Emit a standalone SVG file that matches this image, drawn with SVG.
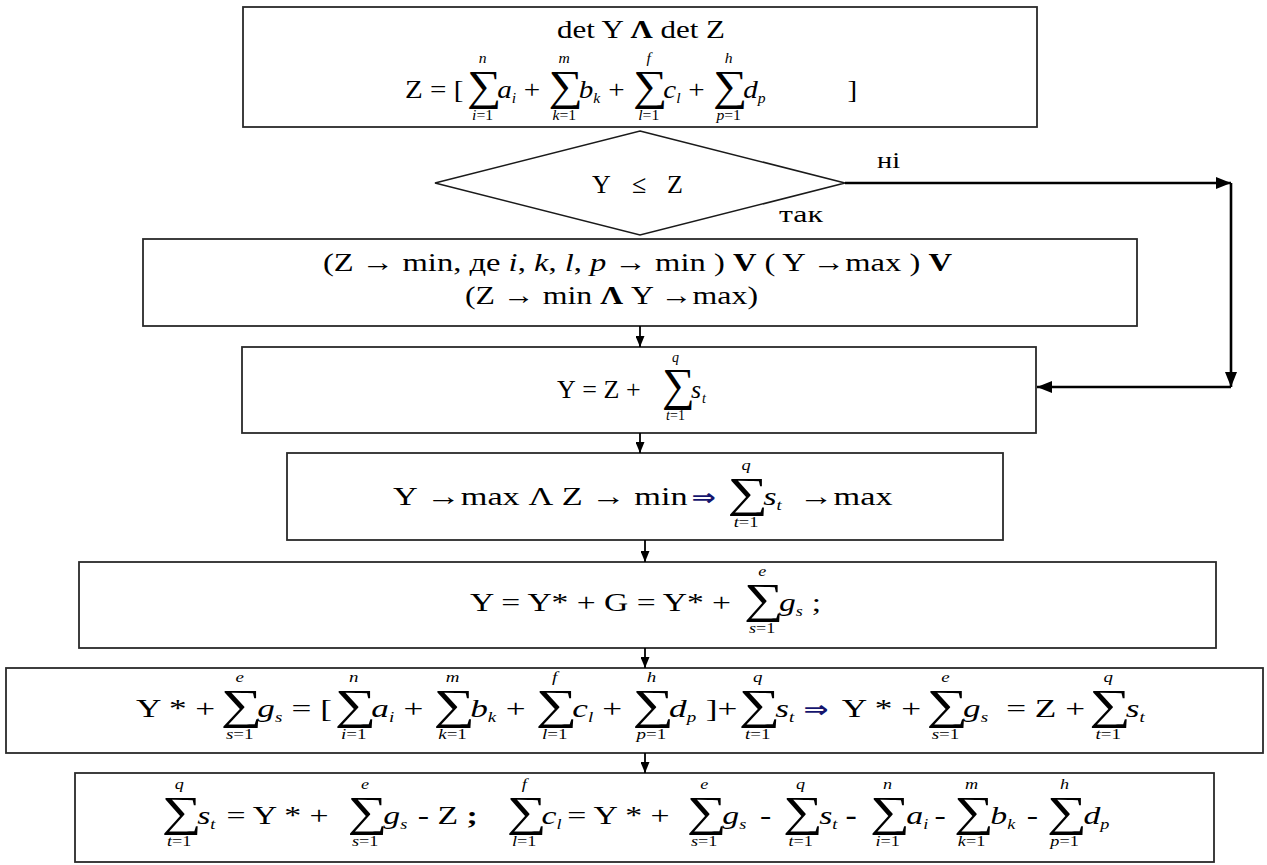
<svg xmlns="http://www.w3.org/2000/svg" width="1267" height="865" viewBox="0 0 1267 865">
<defs>
<style>
text { font-family: "Liberation Serif", "DejaVu Serif", serif; fill: #000; }
.m { font-size: 26px; }
.it { font-style: italic; }
.sb { font-size: 14px; font-style: italic; }
.S { font-size: 43px; font-style: normal; }
.S2 { font-size: 46px; font-style: normal; }
.lim { font-size: 14px; text-anchor: middle; }
.li { font-style: italic; }
.bd { font-weight: bold; }
.dr { font-family: "DejaVu Sans", sans-serif; font-weight: bold; fill: #15156e; font-size: 22px; }
.lbl { font-size: 24px; }
.box { fill: #fff; stroke: #2a2a2a; stroke-width: 1.8; }
.cn { fill: none; stroke: #000; stroke-width: 1.8; }
.fb { fill: none; stroke: #000; stroke-width: 2.6; }
</style>
<marker id="ah" viewBox="0 0 11 9" refX="11" refY="4.5" markerWidth="11" markerHeight="9" markerUnits="userSpaceOnUse" orient="auto">
<path d="M0,0 L11,4.5 L0,9 z" fill="#000"/>
</marker>
<marker id="ahb" viewBox="0 0 15 12" refX="15" refY="6" markerWidth="15" markerHeight="12" markerUnits="userSpaceOnUse" orient="auto">
<path d="M0,0 L15,6 L0,12 z" fill="#000"/>
</marker>
</defs>
<rect width="1267" height="865" fill="#fff"/>

<g id="n1">
<rect class="box" x="243" y="7" width="794" height="120"/>
<text class="m" x="557" y="38" font-size="25" textLength="168" lengthAdjust="spacingAndGlyphs">det Y <tspan class="bd">Λ</tspan> det Z</text>
<g transform="matrix(1.12 0 0 1 405 98)">
<text class="m"><tspan x="0" y="0">Z = [</tspan><tspan class="S" x="55.3" y="2">∑</tspan><tspan class="it" x="82.3" y="0">a</tspan><tspan class="sb" x="95.3" y="5">i</tspan><tspan x="106" y="0">+</tspan><tspan class="S" x="128.2" y="2">∑</tspan><tspan class="it" x="155.2" y="0">b</tspan><tspan class="sb" x="168.2" y="5">k</tspan><tspan x="181.4" y="0">+</tspan><tspan class="S" x="203.6" y="2">∑</tspan><tspan class="it" x="230.6" y="0">c</tspan><tspan class="sb" x="242.1" y="5">l</tspan><tspan x="252.8" y="0">+</tspan><tspan class="S" x="275" y="2">∑</tspan><tspan class="it" x="302" y="0">d</tspan><tspan class="sb" x="315" y="5">p</tspan><tspan x="395" y="0">]</tspan></text>
<text class="lim li" x="69.3" y="-35">n</text><text class="lim" x="69.3" y="22"><tspan class="li">i</tspan>=1</text>
<text class="lim li" x="142.2" y="-35">m</text><text class="lim" x="142.2" y="22"><tspan class="li">k</tspan>=1</text>
<text class="lim li" x="217.6" y="-35">f</text><text class="lim" x="217.6" y="22"><tspan class="li">l</tspan>=1</text>
<text class="lim li" x="289" y="-35">h</text><text class="lim" x="289" y="22"><tspan class="li">p</tspan>=1</text>
</g>
</g>

<g id="n2">
<polygon points="640,131 845,183 640,235 435,183" fill="#fff" stroke="#1a1a1a" stroke-width="1.6"/>
<text class="m" x="592 632 667" y="193" font-size="28">Y≤Z</text>
</g>

<g id="n3">
<rect class="box" x="143" y="239" width="994" height="87"/>
<text class="m" x="323" y="271" font-size="27" textLength="629" lengthAdjust="spacingAndGlyphs">(Z → min, де <tspan class="it">i</tspan>, <tspan class="it">k</tspan>, <tspan class="it">l</tspan>, <tspan class="it">p</tspan> → min ) <tspan class="bd">V</tspan> ( Y →max ) <tspan class="bd">V</tspan></text>
<text class="m" x="465" y="304" font-size="27" textLength="293" lengthAdjust="spacingAndGlyphs">(Z → min <tspan class="bd">Λ</tspan> Y →max)</text>
</g>

<g id="n4">
<rect class="box" x="242" y="347" width="794" height="86"/>
<text class="m" font-size="28"><tspan x="557 582.3 603.5 625.9" y="398">Y=Z+</tspan><tspan class="S2" x="662" y="400">∑</tspan><tspan class="it" x="691" y="398">s</tspan><tspan class="sb" x="702.1" y="403" font-size="15">t</tspan></text>
<text class="lim li" x="675.5" y="362">q</text><text class="lim" x="675.5" y="420"><tspan class="li">t</tspan>=1</text>
</g>

<g id="n5">
<rect class="box" x="287" y="453" width="716" height="87"/>
<g transform="matrix(1.32 0 0 1 393 505)">
<text class="m"><tspan x="0" y="0">Y</tspan><tspan x="25.3" y="0">→max</tspan><tspan x="102.6" y="0">Λ</tspan><tspan x="127.9" y="0">Z</tspan><tspan x="150.3" y="0">→</tspan><tspan x="182.8" y="0">min</tspan><tspan class="dr" x="226.2" y="0">⇒</tspan><tspan class="S" x="253.5" y="2">∑</tspan><tspan class="it" x="280.5" y="0">s</tspan><tspan class="sb" x="290.6" y="5">t</tspan><tspan x="307.8" y="0">→max</tspan></text>
<text class="lim li" x="267.5" y="-35">q</text><text class="lim" x="267.5" y="22"><tspan class="li">t</tspan>=1</text>
</g>
</g>

<g id="n6">
<rect class="box" x="79" y="562" width="1137" height="86"/>
<g transform="matrix(1.29 0 0 1 470 611)">
<text class="m"><tspan x="0" y="0">Y = Y* + G = Y* +</tspan><tspan class="S" x="212.5" y="2">∑</tspan><tspan class="it" x="239.5" y="0">g</tspan><tspan class="sb" x="252.5" y="5">s</tspan><tspan x="265" y="0">;</tspan></text>
<text class="lim li" x="226.5" y="-35">e</text><text class="lim" x="226.5" y="22"><tspan class="li">s</tspan>=1</text>
</g>
</g>

<g id="n7">
<rect class="box" x="6" y="668" width="1257" height="85"/>
<g transform="matrix(1.355 0 0 1 136 717)">
<text class="m"><tspan x="0" y="0">Y * +</tspan><tspan class="S" x="62.5" y="2">∑</tspan><tspan class="it" x="89.5" y="0">g</tspan><tspan class="sb" x="102.5" y="5">s</tspan><tspan x="114.8" y="0">= [</tspan><tspan class="S" x="146.7" y="2">∑</tspan><tspan class="it" x="173.7" y="0">a</tspan><tspan class="sb" x="186.7" y="5">i</tspan><tspan x="197.4" y="0">+</tspan><tspan class="S" x="219.6" y="2">∑</tspan><tspan class="it" x="246.6" y="0">b</tspan><tspan class="sb" x="259.6" y="5">k</tspan><tspan x="272.8" y="0">+</tspan><tspan class="S" x="295" y="2">∑</tspan><tspan class="it" x="322" y="0">c</tspan><tspan class="sb" x="333.5" y="5">l</tspan><tspan x="344.2" y="0">+</tspan><tspan class="S" x="366.4" y="2">∑</tspan><tspan class="it" x="393.4" y="0">d</tspan><tspan class="sb" x="406.4" y="5">p</tspan><tspan x="420.4" y="0">]</tspan><tspan x="429.1" y="0">+</tspan><tspan class="S" x="444.8" y="2">∑</tspan><tspan class="it" x="471.8" y="0">s</tspan><tspan class="sb" x="481.9" y="5">t</tspan><tspan class="dr" x="492.6" y="0">⇒</tspan><tspan x="520.9" y="0">Y * +</tspan><tspan class="S" x="583.4" y="2">∑</tspan><tspan class="it" x="610.4" y="0">g</tspan><tspan class="sb" x="623.4" y="5">s</tspan><tspan x="642.2" y="0">= Z +</tspan><tspan class="S" x="703.5" y="2">∑</tspan><tspan class="it" x="730.5" y="0">s</tspan><tspan class="sb" x="740.6" y="5">t</tspan></text>
<text class="lim li" x="76.5" y="-35">e</text><text class="lim" x="76.5" y="22"><tspan class="li">s</tspan>=1</text>
<text class="lim li" x="160.7" y="-35">n</text><text class="lim" x="160.7" y="22"><tspan class="li">i</tspan>=1</text>
<text class="lim li" x="233.6" y="-35">m</text><text class="lim" x="233.6" y="22"><tspan class="li">k</tspan>=1</text>
<text class="lim li" x="309" y="-35">f</text><text class="lim" x="309" y="22"><tspan class="li">l</tspan>=1</text>
<text class="lim li" x="380.4" y="-35">h</text><text class="lim" x="380.4" y="22"><tspan class="li">p</tspan>=1</text>
<text class="lim li" x="458.8" y="-35">q</text><text class="lim" x="458.8" y="22"><tspan class="li">t</tspan>=1</text>
<text class="lim li" x="597.4" y="-35">e</text><text class="lim" x="597.4" y="22"><tspan class="li">s</tspan>=1</text>
<text class="lim li" x="717.5" y="-35">q</text><text class="lim" x="717.5" y="22"><tspan class="li">t</tspan>=1</text>
</g>
</g>

<g id="n8">
<rect class="box" x="75" y="773" width="1139" height="89"/>
<g transform="matrix(1.3 0 0 1 163 824)">
<text class="m"><tspan class="S" x="-1" y="2">∑</tspan><tspan class="it" x="26.3" y="0">s</tspan><tspan class="sb" x="36.4" y="5">t</tspan><tspan x="48.8" y="0">= Y * +</tspan><tspan class="S" x="142" y="2">∑</tspan><tspan class="it" x="169.5" y="0">g</tspan><tspan class="sb" x="182.5" y="5">s</tspan><tspan x="196" y="0">- Z <tspan class="bd">;</tspan></tspan><tspan class="S" x="264.4" y="2">∑</tspan><tspan class="it" x="291.2" y="0">c</tspan><tspan class="sb" x="302.7" y="5">l</tspan><tspan x="311" y="0">= Y * +</tspan><tspan class="S" x="402.8" y="2">∑</tspan><tspan class="it" x="430.2" y="0">g</tspan><tspan class="sb" x="443.2" y="5">s</tspan><tspan x="459.2" y="0">-</tspan><tspan class="S" x="477" y="2">∑</tspan><tspan class="it" x="504.8" y="0">s</tspan><tspan class="sb" x="514.9" y="5">t</tspan><tspan class="bd" x="525" y="0">-</tspan><tspan class="S" x="543.9" y="2">∑</tspan><tspan class="it" x="571.8" y="0">a</tspan><tspan class="sb" x="584.8" y="5">i</tspan><tspan x="593.5" y="0">-</tspan><tspan class="S" x="608.5" y="2">∑</tspan><tspan class="it" x="636.4" y="0">b</tspan><tspan class="sb" x="649.4" y="5">k</tspan><tspan x="664.5" y="0">-</tspan><tspan class="S" x="680" y="2">∑</tspan><tspan class="it" x="708" y="0">d</tspan><tspan class="sb" x="721" y="5">p</tspan></text>
<text class="lim li" x="12.5" y="-35">q</text><text class="lim" x="12.5" y="22"><tspan class="li">t</tspan>=1</text>
<text class="lim li" x="155.5" y="-35">e</text><text class="lim" x="155.5" y="22"><tspan class="li">s</tspan>=1</text>
<text class="lim li" x="277.9" y="-35">f</text><text class="lim" x="277.9" y="22"><tspan class="li">l</tspan>=1</text>
<text class="lim li" x="416.3" y="-35">e</text><text class="lim" x="416.3" y="22"><tspan class="li">s</tspan>=1</text>
<text class="lim li" x="490.5" y="-35">q</text><text class="lim" x="490.5" y="22"><tspan class="li">t</tspan>=1</text>
<text class="lim li" x="557.4" y="-35">n</text><text class="lim" x="557.4" y="22"><tspan class="li">i</tspan>=1</text>
<text class="lim li" x="622" y="-35">m</text><text class="lim" x="622" y="22"><tspan class="li">k</tspan>=1</text>
<text class="lim li" x="693.5" y="-35">h</text><text class="lim" x="693.5" y="22"><tspan class="li">p</tspan>=1</text>
</g>
</g>

<g id="edges">
<path class="fb" d="M845,183 H1231" marker-end="url(#ahb)"/>
<path class="fb" d="M1231,183 V387" marker-end="url(#ahb)"/>
<path class="fb" d="M1231,387 H1037" marker-end="url(#ahb)"/>
<path class="cn" d="M640,326 V347" marker-end="url(#ah)"/>
<path class="cn" d="M640,433 V453" marker-end="url(#ah)"/>
<path class="cn" d="M645,540 V562" marker-end="url(#ah)"/>
<path class="cn" d="M645,648 V668" marker-end="url(#ah)"/>
<path class="cn" d="M645,753 V773" marker-end="url(#ah)"/>
<text class="lbl" x="877" y="168" textLength="23" lengthAdjust="spacingAndGlyphs">ні</text>
<text class="lbl" x="779" y="222" textLength="44" lengthAdjust="spacingAndGlyphs">так</text>
</g>
</svg>
